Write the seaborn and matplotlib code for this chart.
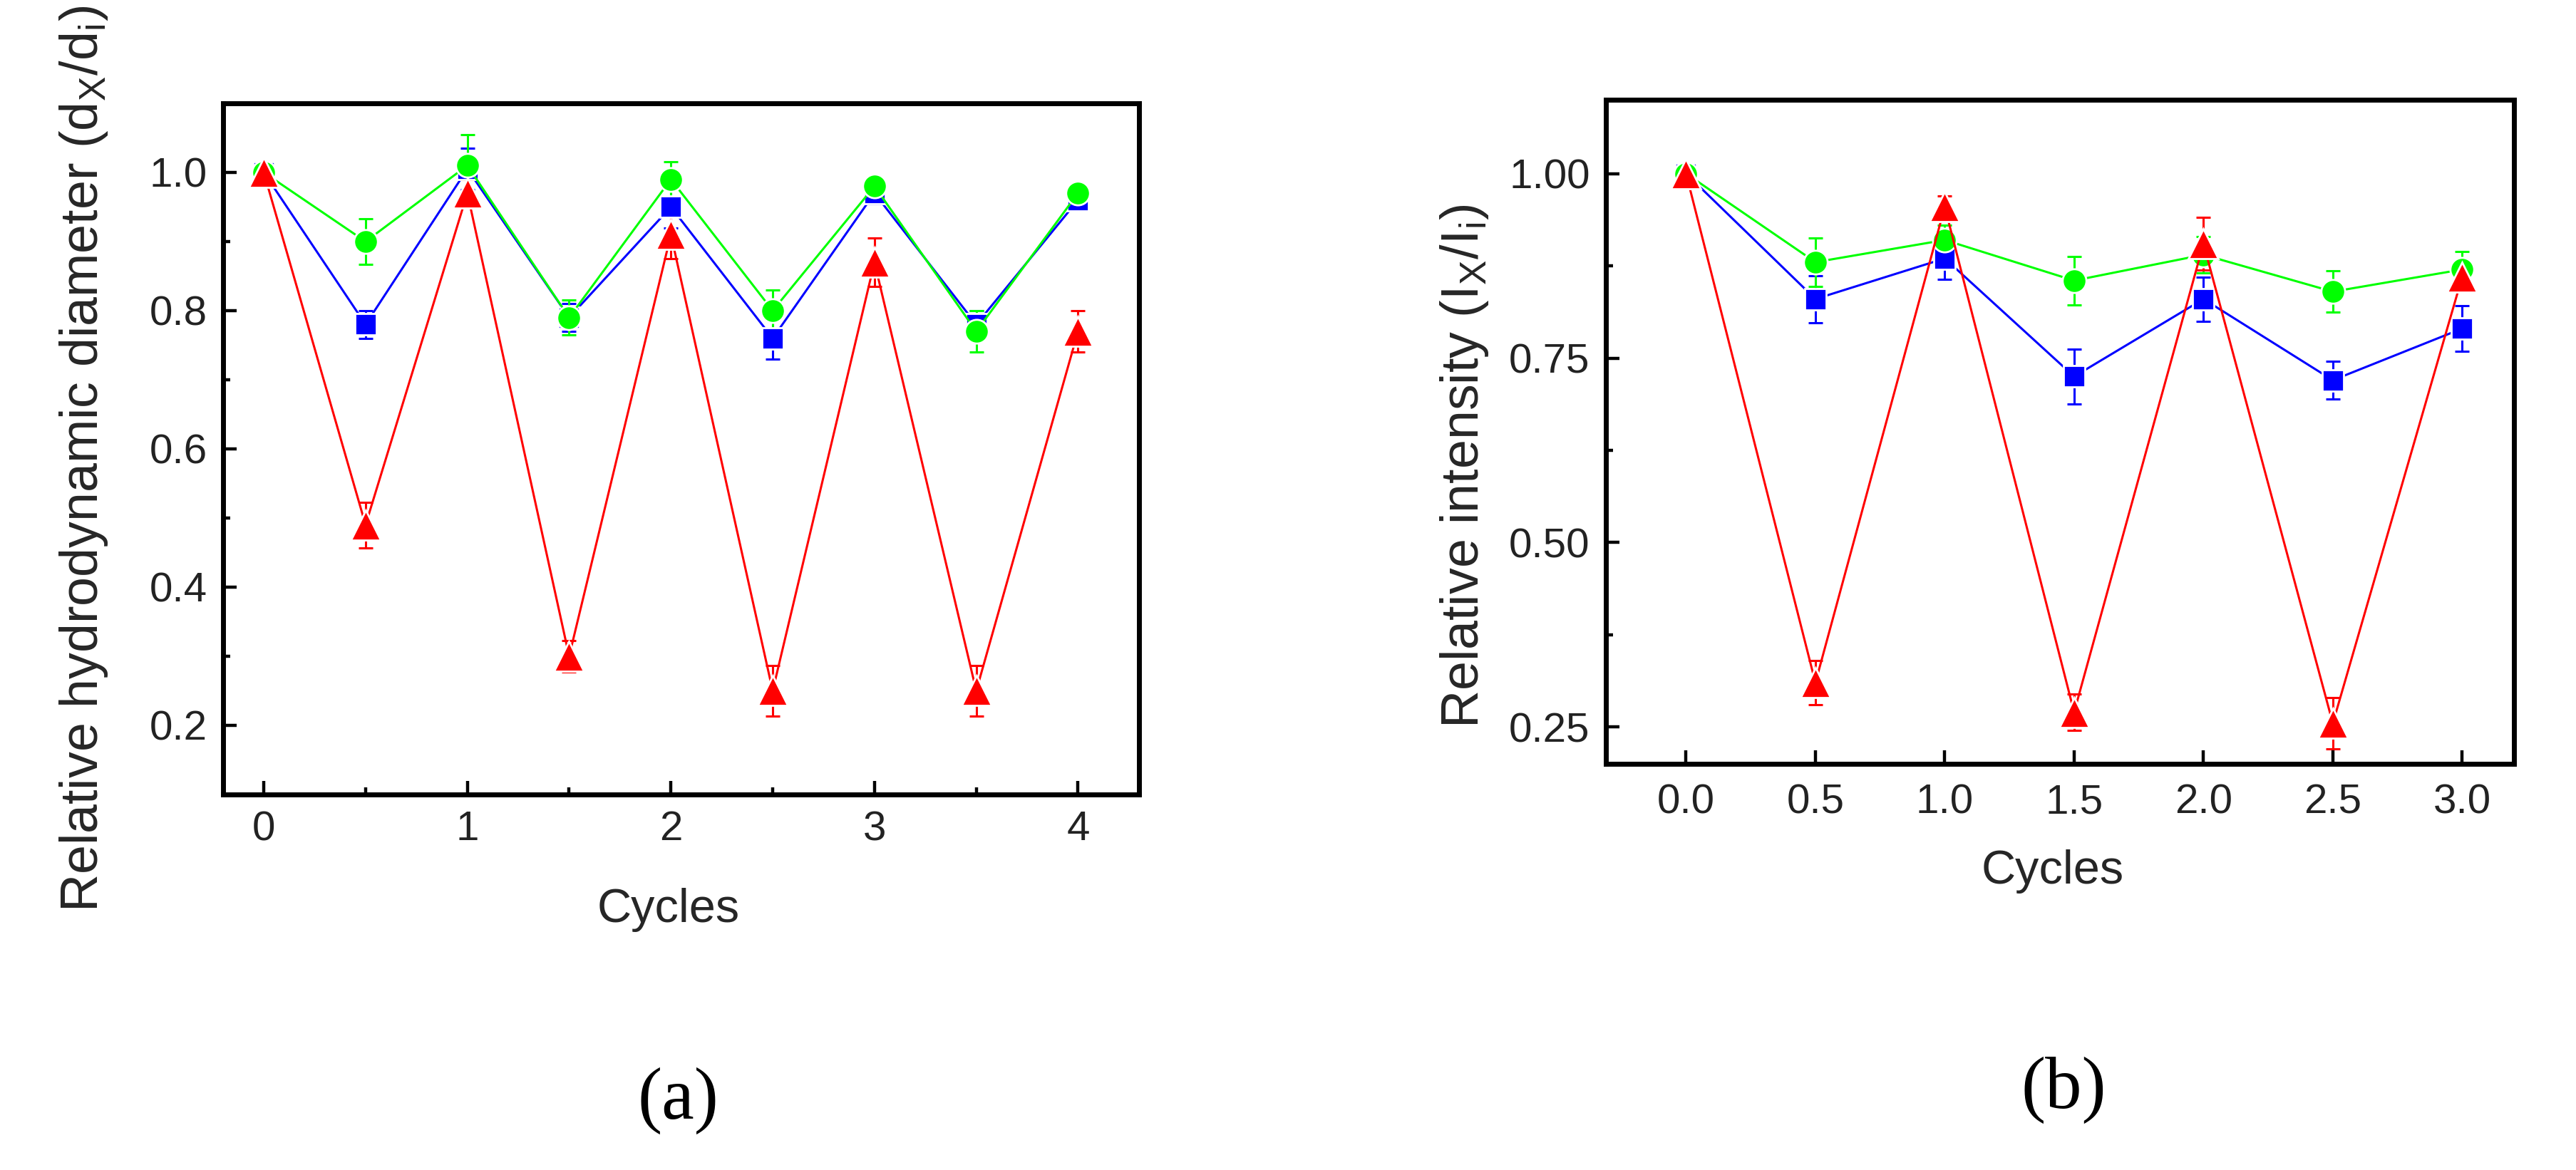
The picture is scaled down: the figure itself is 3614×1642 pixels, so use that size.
import numpy as np
import seaborn as sns
import matplotlib.pyplot as plt
from matplotlib.ticker import MultipleLocator, FormatStrFormatter

# (a) relative hydrodynamic diameter
cycles_a = [0, 0.5, 1, 1.5, 2, 2.5, 3, 3.5, 4]
blue_a = [1.00, 0.78, 1.005, 0.79, 0.95, 0.76, 0.97, 0.78, 0.96]
blue_a_err = [0.01, 0.02, 0.03, 0.02, 0.03, 0.03, 0.015, 0.02, 0.01]
green_a = [1.00, 0.90, 1.01, 0.79, 0.99, 0.80, 0.98, 0.77, 0.97]
green_a_err = [0.01, 0.033, 0.045, 0.025, 0.025, 0.03, 0.01, 0.03, 0.01]
red_a = [1.00, 0.49, 0.97, 0.30, 0.91, 0.25, 0.87, 0.25, 0.77]
red_a_err = [0.01, 0.033, 0.02, 0.023, 0.035, 0.037, 0.035, 0.037, 0.03]

# (b) relative intensity
cycles_b = [0, 0.5, 1, 1.5, 2, 2.5, 3]
blue_b = [1.00, 0.83, 0.885, 0.725, 0.83, 0.72, 0.79]
blue_b_err = [0.01, 0.032, 0.028, 0.037, 0.03, 0.026, 0.031]
green_b = [1.00, 0.88, 0.91, 0.855, 0.89, 0.84, 0.87]
green_b_err = [0.01, 0.033, 0.02, 0.033, 0.025, 0.028, 0.024]
red_b = [1.00, 0.31, 0.955, 0.27, 0.905, 0.255, 0.86]
red_b_err = [0.01, 0.03, 0.015, 0.025, 0.036, 0.035, 0.02]

sns.set_theme(style='ticks')
plt.rcParams['font.family'] = ['Liberation Sans', 'DejaVu Sans']
plt.rcParams['mathtext.fontset'] = 'custom'
plt.rcParams['mathtext.rm'] = 'Liberation Sans'
plt.rcParams['mathtext.it'] = 'Liberation Sans:italic'
plt.rcParams['text.color'] = '#222222'

fig = plt.figure(figsize=(18.07, 8.21), dpi=200)
ax_a = fig.add_axes([0.0866, 0.3210, 0.3556, 0.5907])
ax_b = fig.add_axes([0.6234, 0.3471, 0.3525, 0.5676])


def draw_series(ax, x, y, err, color, marker, ms):
  ax.errorbar(x, y, yerr=err, fmt='none', ecolor=color, elinewidth=1.1,
              capsize=3.6, capthick=1.1, zorder=2)
  sns.lineplot(x=x, y=y, ax=ax, color=color, linewidth=1.1, marker=marker,
               markersize=ms, markeredgecolor='white', markeredgewidth=1.0,
               zorder=3)


def style_axes(ax):
  for side in ['left', 'right', 'top', 'bottom']:
    ax.spines[side].set_visible(True)
    ax.spines[side].set_linewidth(2.5)
    ax.spines[side].set_color('black')
  ax.tick_params(which='both', direction='in', top=False, right=False,
                 colors='black', labelcolor='#222222', labelsize=21)
  ax.tick_params(which='major', length=7, width=1.6, pad=8)
  ax.tick_params(which='minor', length=3.6, width=1.6)
  ax.grid(False)


for x, y, err, color, marker, ms in [
    (cycles_a, blue_a, blue_a_err, '#0000FF', 's', 11),
    (cycles_a, green_a, green_a_err, '#00FF00', 'o', 12),
    (cycles_a, red_a, red_a_err, '#FF0000', '^', 15)]:
  draw_series(ax_a, x, y, err, color, marker, ms)

for x, y, err, color, marker, ms in [
    (cycles_b, blue_b, blue_b_err, '#0000FF', 's', 11),
    (cycles_b, green_b, green_b_err, '#00FF00', 'o', 12),
    (cycles_b, red_b, red_b_err, '#FF0000', '^', 15)]:
  draw_series(ax_b, x, y, err, color, marker, ms)

ax_a.set_xlim(-0.2, 4.3)
ax_a.set_ylim(0.1, 1.1)
ax_a.xaxis.set_major_locator(MultipleLocator(1))
ax_a.xaxis.set_minor_locator(MultipleLocator(0.5))
ax_a.yaxis.set_major_locator(MultipleLocator(0.2))
ax_a.yaxis.set_minor_locator(MultipleLocator(0.1))
ax_a.yaxis.set_major_formatter(FormatStrFormatter('%.1f'))
style_axes(ax_a)
ax_a.set_xlabel('Cycles', fontsize=24, va='center')
ax_a.xaxis.set_label_coords(0.486, -0.167)
ax_a.set_ylabel(r'Relative hydrodynamic diameter (d$_{\mathregular{X}}$/d$_{\mathregular{i}}$)',
                fontsize=26.5, va='center')
ax_a.yaxis.set_label_coords(-0.152, 0.486)

ax_b.set_xlim(-0.31, 3.2)
ax_b.set_ylim(0.2, 1.1)
ax_b.xaxis.set_major_locator(MultipleLocator(0.5))
ax_b.xaxis.set_major_formatter(FormatStrFormatter('%.1f'))
ax_b.yaxis.set_major_locator(MultipleLocator(0.25))
ax_b.yaxis.set_minor_locator(MultipleLocator(0.125))
ax_b.yaxis.set_major_formatter(FormatStrFormatter('%.2f'))
style_axes(ax_b)
ax_b.tick_params(axis='x', which='major', pad=10)
ax_b.set_xlabel('Cycles', fontsize=24, va='center')
ax_b.xaxis.set_label_coords(0.492, -0.162)
ax_b.set_ylabel(r'Relative intensity (I$_{\mathregular{X}}$/I$_{\mathregular{i}}$)',
                fontsize=26.5, va='center')
ax_b.yaxis.set_label_coords(-0.156, 0.449)

fig.text(0.2634, 0.0591, '(a)', family='Liberation Serif', fontsize=37,
         ha='center', va='center', color='black')
fig.text(0.801, 0.0682, '(b)', family='Liberation Serif', fontsize=37,
         ha='center', va='center', color='black')

fig.savefig('out.png', dpi=200, facecolor='white')
plt.close()
